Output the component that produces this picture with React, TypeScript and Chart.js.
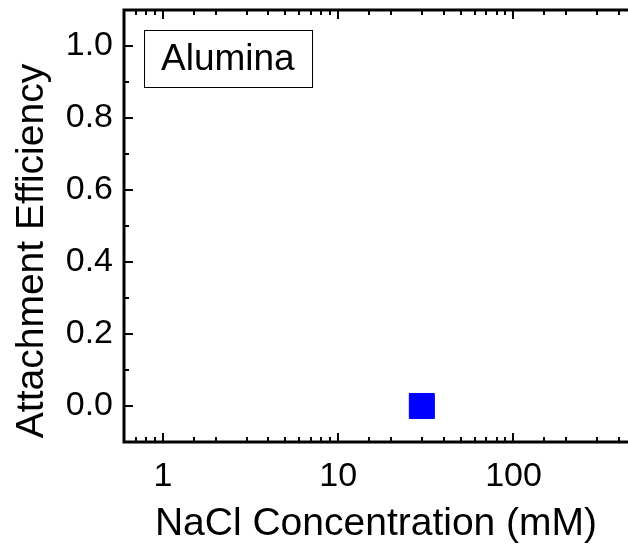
import React, { useEffect, useRef } from 'react';
import { Chart, registerables } from 'chart.js';

Chart.register(...registerables);

// ---- data ----
const concentrationsMM = [30];
const attachmentEfficiency = [0];
const seriesLabel = 'Alumina';
const xLabeledTicks = [1, 10, 100];
const xMin = 0.6;
const xMax = 450;
const yMin = -0.1;
const yMax = 1.1;
const yStep = 0.1;
const xTitle = 'NaCl Concentration (mM)';
const yTitle = 'Attachment Efficiency';

const FONT = '"Liberation Sans", Arial, Helvetica, sans-serif';

const isDecade = (v: number) => Math.abs(Math.log10(v) - Math.round(Math.log10(v))) < 1e-6;
const isEvenTenth = (v: number) => Math.abs(Math.round(v * 10)) % 2 === 0;

const framePlugin = {
  id: 'originFrame',
  afterDraw(chart: any) {
    const { ctx, chartArea: a, scales } = chart;
    const xs = scales.x;
    const ys = scales.y;
    ctx.save();
    ctx.strokeStyle = '#000';
    ctx.lineCap = 'butt';
    ctx.lineWidth = 2;
    ctx.beginPath();
    xs.ticks.forEach((t: any) => {
      const v = t.value;
      if (v <= xs.min * 1.0001 || v >= xs.max * 0.9999) return;
      const px = Math.round(xs.getPixelForValue(v));
      const len = isDecade(v) ? 9 : 5;
      ctx.moveTo(px, a.bottom);
      ctx.lineTo(px, a.bottom - len);
      ctx.moveTo(px, a.top);
      ctx.lineTo(px, a.top + len);
    });
    ys.ticks.forEach((t: any) => {
      const v = t.value;
      if (v <= ys.min + 1e-6 || v >= ys.max - 1e-6) return;
      const py = Math.round(ys.getPixelForValue(v));
      const len = isEvenTenth(v) ? 9 : 5;
      ctx.moveTo(a.left, py);
      ctx.lineTo(a.left + len, py);
    });
    ctx.stroke();

    ctx.lineWidth = 3;
    ctx.lineCap = 'square';
    ctx.beginPath();
    ctx.moveTo(a.left, a.top);
    ctx.lineTo(a.right + 2, a.top);
    ctx.moveTo(a.left, a.top);
    ctx.lineTo(a.left, a.bottom);
    ctx.lineTo(a.right + 2, a.bottom);
    ctx.stroke();

    // y axis title (Origin places it slightly below the axis centre)
    ctx.save();
    ctx.fillStyle = '#000';
    ctx.font = `39px ${FONT}`;
    ctx.textAlign = 'center';
    ctx.textBaseline = 'alphabetic';
    ctx.translate(43, (a.top + a.bottom) / 2 + 25);
    ctx.rotate(-Math.PI / 2);
    ctx.fillText(yTitle, 0, 0);
    ctx.restore();

    // legend box
    const bx = a.left + 20;
    const by = a.top + 20;
    const bw = 168;
    const bh = 57;
    ctx.lineWidth = 1;
    ctx.lineCap = 'butt';
    ctx.fillStyle = '#fff';
    ctx.fillRect(bx, by, bw, bh);
    ctx.strokeRect(bx + 0.5, by + 0.5, bw, bh);
    ctx.fillStyle = '#000';
    ctx.font = `37px ${FONT}`;
    ctx.textBaseline = 'middle';
    ctx.textAlign = 'left';
    ctx.fillText(seriesLabel, bx + 17, by + bh / 2 + 1);
    ctx.restore();
  },
};

export default function App() {
  const canvasRef = useRef<HTMLCanvasElement | null>(null);

  useEffect(() => {
    const canvas = canvasRef.current;
    if (!canvas) return;
    const chart = new Chart(canvas, {
      type: 'scatter',
      data: {
        datasets: [
          {
            label: seriesLabel,
            data: concentrationsMM.map((x, i) => ({ x, y: attachmentEfficiency[i] })),
            pointStyle: 'rect',
            pointRadius: 17.7,
            pointHoverRadius: 17.7,
            backgroundColor: '#0000ff',
            borderColor: '#0000ff',
            borderWidth: 1,
          },
        ],
      },
      options: {
        responsive: false,
        animation: false,
        events: [],
        layout: { autoPadding: false, padding: { top: 10, left: 0, right: 0, bottom: 0 } },
        plugins: {
          legend: { display: false },
          tooltip: { enabled: false },
        },
        scales: {
          x: {
            type: 'logarithmic',
            position: 'bottom',
            min: xMin,
            max: xMax,
            grid: { display: false, drawTicks: false },
            border: { display: false },
            afterFit: (s: any) => {
              s.height = 102;
              s.paddingLeft = 0;
              s.paddingRight = 0;
            },
            ticks: {
              autoSkip: false,
              maxRotation: 0,
              minRotation: 0,
              padding: 14,
              color: '#000',
              font: { size: 34, family: FONT },
              callback: (v: any) => {
                const n = Number(v);
                return xLabeledTicks.some((t) => Math.abs(t - n) < 1e-9 * t) ? String(Math.round(n)) : '';
              },
            },
            title: {
              display: true,
              text: xTitle,
              color: '#000',
              font: { size: 39, family: FONT, lineHeight: 1 },
              padding: { top: 0, bottom: 0 },
            },
          },
          y: {
            type: 'linear',
            position: 'left',
            min: yMin,
            max: yMax,
            grid: { display: false, drawTicks: false },
            border: { display: false },
            afterFit: (s: any) => {
              s.width = 124;
              s.paddingTop = 0;
              s.paddingBottom = 0;
            },
            ticks: {
              stepSize: yStep,
              autoSkip: false,
              padding: 11,
              color: '#000',
              font: { size: 34, family: FONT },
              callback: (v: any) => {
                const n = Number(v);
                if (n <= yMin + 1e-6 || n >= yMax - 1e-6) return '';
                return isEvenTenth(n) ? n.toFixed(1) : '';
              },
            },
            title: { display: false, text: yTitle },
          },
        },
      },
      plugins: [framePlugin],
    } as any);
    return () => chart.destroy();
  }, []);

  return (
    <div style={{ position: 'absolute', left: 0, top: 0, width: 628, height: 544, background: '#fff' }}>
      <canvas ref={canvasRef} width={628} height={544} style={{ display: 'block' }} />
    </div>
  );
}
